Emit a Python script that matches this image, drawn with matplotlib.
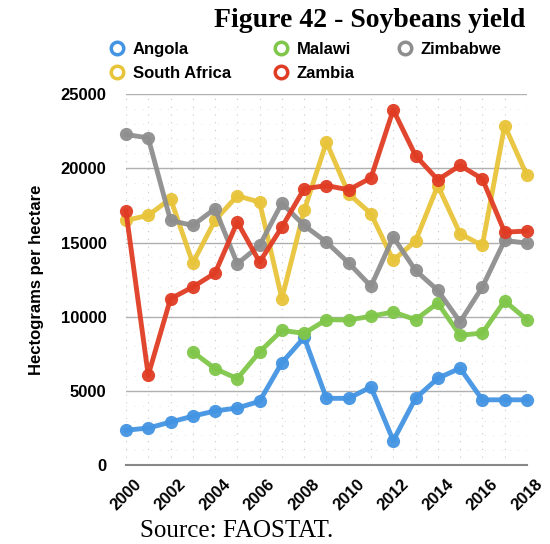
import matplotlib
matplotlib.use("Agg")
import matplotlib.pyplot as plt
from matplotlib.lines import Line2D
import numpy as np

plt.rcParams["font.family"] = ["Liberation Sans", "DejaVu Sans"]

years = list(range(2000, 2019))
angola = [2350, 2500, 2900, 3300, 3650, 3850, 4300, 6900, 8600, 4500, 4500, 5270, 1650, 4500, 5850, 6530, 4400, 4400, 4400]
malawi = [None, None, None, 7630, 6500, 5830, 7630, 9080, 8880, 9800, 9780, 10030, 10320, 9800, 10920, 8750, 8900, 11060, 9800]
zimbabwe = [22280, 22050, 16490, 16150, 17280, 13570, 14800, 17650, 16150, 15030, 13620, 12050, 15370, 13120, 11780, 9650, 12000, 15140, 14960]
south_africa = [16490, 16830, 17950, 13620, 16500, 18150, 17720, 11220, 17160, 21760, 18280, 16940, 13800, 15100, 18840, 15590, 14800, 22880, 19520]
zambia = [17110, 6060, 11210, 12000, 12940, 16380, 13680, 16040, 18620, 18840, 18550, 19360, 23940, 20860, 19230, 20190, 19290, 15700, 15770]

series_names = ["Angola", "South Africa", "Malawi", "Zambia", "Zimbabwe"]
colors = {"Angola": "#4394e2", "Malawi": "#80c64a", "Zimbabwe": "#8e8e8e",
          "South Africa": "#e8c43a", "Zambia": "#e03c24"}
data = {"Angola": angola, "Malawi": malawi, "Zimbabwe": zimbabwe,
        "South Africa": south_africa, "Zambia": zambia}

fig = plt.figure(figsize=(5.5, 5.44), dpi=100)
ax = fig.add_axes([0.229, 0.145, 0.729, 0.682])

# dotted minor grid
for yr in years:
    ax.axvline(yr, color="#c8c8c8", lw=0.8, ls=(0, (1, 6)), zorder=0)
for v in range(1000, 25000, 1000):
    if v % 5000:
        ax.axhline(v, color="#dddddd", lw=0.6, ls=(0, (1, 9)), zorder=0)
for v in range(5000, 25001, 5000):
    ax.axhline(v, color="#b0b0b0", lw=1.0, zorder=0.5)

plot_order = ["Angola", "Malawi", "South Africa", "Zimbabwe", "Zambia"]
for name in plot_order:
    vals = np.array([np.nan if v is None else v for v in data[name]], dtype=float)
    ax.plot(years, vals, color=colors[name], lw=3.5, marker="o", ms=9.5,
            markeredgewidth=0, clip_on=False, zorder=3, alpha=0.95)

ax.set_xlim(2000, 2018)
ax.set_ylim(0, 25000)
ax.set_yticks(range(0, 25001, 5000))
ax.set_xticks(range(2000, 2019, 2))
for s in ["top", "right", "left"]:
    ax.spines[s].set_visible(False)
ax.spines["bottom"].set_color("#888888")
ax.spines["bottom"].set_linewidth(1.5)
ax.tick_params(axis="both", length=0)
ax.tick_params(axis="y", pad=14)
ax.tick_params(axis="x", pad=8)
for lab in ax.get_yticklabels():
    lab.set_fontweight("bold")
    lab.set_fontsize(12)
for lab in ax.get_xticklabels():
    lab.set_fontweight("bold")
    lab.set_fontsize(12)
    lab.set_rotation(45)
    lab.set_ha("center")
ax.set_ylabel("Hectograms per hectare", fontweight="bold", fontsize=12, labelpad=12)

fig.text(0.673, 0.962, "Figure 42 - Soybeans yield", ha="center", va="center",
         fontsize=20, fontweight="bold", family="Liberation Serif")
fig.text(0.255, 0.024, "Source: FAOSTAT.", ha="left", va="center",
         fontsize=18, family="Liberation Serif")

handles = [Line2D([], [], ls="none", marker="o", ms=9, mfc="white",
                  mec=colors[n], mew=2.5) for n in series_names]
leg = fig.legend(handles, series_names, ncol=3, loc="upper left",
                 bbox_to_anchor=(0.167, 0.95), frameon=False,
                 prop={"weight": "bold", "size": 12}, handletextpad=0.35,
                 columnspacing=2.4, labelspacing=0.5, handlelength=1.2)

fig.savefig("out.png", dpi=100)
